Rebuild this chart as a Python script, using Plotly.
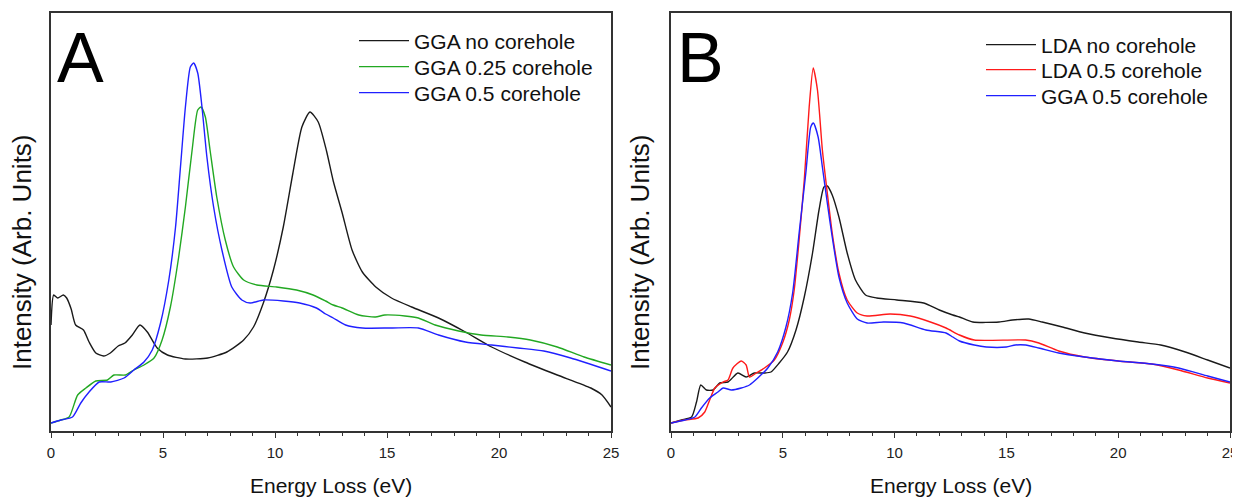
import plotly.graph_objects as go

# ---------------- Panel A data (Energy Loss in eV, intensity in arbitrary units) ----------------
a_gga_no_E = [0, 0.12, 0.3, 0.55, 0.7, 0.9, 1.1, 1.45, 1.7, 2.0, 2.35, 2.65, 3.0, 3.3, 3.63, 3.97, 4.3,
              4.74, 5.2, 6.0, 7.0, 7.85, 8.6, 9.04, 9.48, 9.93, 10.37, 10.8, 11.2, 11.56, 11.93, 12.3,
              12.6, 13.0, 13.44, 13.9, 14.5, 15.2, 16.1, 17.3, 18.5, 19.67, 21.15, 22.6, 24.1, 24.6, 25.0]
a_gga_no_I = [106, 136, 133, 136, 133, 122, 106, 101, 89, 78, 75, 78, 85, 88, 96, 106, 99,
              83, 76, 72, 73, 79, 91, 104, 128, 161, 204, 258, 304, 319, 309, 280,
              250, 218, 181, 159, 144, 133, 124, 113, 99, 84, 69, 56, 43, 36, 24]

a_gga_025_E = [0, 0.44, 0.81, 1.19, 1.56, 2.0, 2.52, 2.81, 3.33, 3.7, 4.15, 4.6, 4.96, 5.33, 5.7, 6.0,
               6.3, 6.55, 6.7, 6.89, 7.1, 7.4, 7.78, 8.15, 8.6, 9.19, 10.07, 10.96, 11.7, 12.26, 12.6,
               13.0, 13.74, 14.48, 14.9, 15.8, 16.4, 17.15, 18.2, 19.2, 20.4, 21.4, 22.6, 23.8, 25.0]
a_gga_025_I = [8, 11, 14, 36, 43, 50, 51, 56, 56, 61, 66, 73, 91, 124, 174, 224,
               281, 321, 324, 314, 281, 234, 191, 164, 151, 146, 144, 141, 136, 130, 126,
               123, 116, 114, 116, 115, 113, 106, 100, 96, 94, 91, 84, 74, 66]

a_gga_05_E = [0, 0.44, 0.96, 1.33, 1.7, 2.15, 2.67, 3.26, 3.7, 4.15, 4.52, 4.89, 5.26, 5.56, 5.78, 6.0,
              6.22, 6.37, 6.55, 6.74, 6.96, 7.26, 7.63, 8.07, 8.52, 8.89, 9.48, 10.37, 11.1, 11.85, 12.26,
              12.6, 13.15, 13.9, 15.2, 16.4, 17.3, 18.5, 19.67, 20.85, 22.0, 23.2, 25.0]
a_gga_05_I = [8, 11, 14, 28, 39, 49, 49, 53, 61, 69, 81, 108, 151, 204, 264, 324,
              364, 368, 358, 324, 274, 224, 181, 144, 131, 128, 131, 130, 128, 123, 117,
              113, 106, 103, 103, 103, 96, 89, 86, 83, 80, 73, 60]

# ---------------- Panel B data ----------------
b_lda_no_E = [0, 0.47, 0.92, 1.14, 1.33, 1.58, 1.88, 2.18, 2.55, 2.99, 3.36, 3.73, 4.18, 4.47, 4.84, 5.21,
              5.59, 5.96, 6.33, 6.62, 6.84, 6.99, 7.21, 7.51, 7.88, 8.25, 8.7, 9.2, 10.1, 11.3, 12.0,
              12.6, 12.9, 13.5, 14.67, 15.27, 16.0, 16.6, 17.5, 18.5, 19.7, 20.9, 21.9, 23.0, 24.0, 25.0]
b_lda_no_I = [8, 11, 14, 29, 46, 41, 41, 48, 49, 58, 54, 58, 58, 59, 68, 79,
              101, 134, 178, 221, 244, 245, 236, 214, 178, 151, 136, 133, 131, 128, 121,
              116, 114, 109, 109, 111, 112, 109, 104, 98, 93, 89, 86, 79, 71, 63]

b_lda_05_E = [0, 0.62, 1.21, 1.51, 1.73, 1.96, 2.33, 2.55, 2.77, 3.14, 3.36, 3.51, 3.81, 4.18, 4.62, 4.99,
              5.29, 5.51, 5.73, 5.96, 6.18, 6.36, 6.55, 6.77, 6.99, 7.21, 7.51, 7.88, 8.33, 8.77, 9.8,
              10.7, 11.6, 12.3, 12.9, 13.56, 15.86, 16.45, 17.34, 18.5, 20.0, 21.5, 22.7, 24.0, 25.0]
b_lda_05_I = [8, 11, 13, 19, 31, 43, 49, 51, 63, 70, 66, 54, 58, 63, 71, 88,
              111, 141, 191, 251, 324, 363, 341, 281, 238, 198, 158, 131, 118, 115, 117,
              115, 109, 103, 96, 91, 91, 88, 80, 74, 70, 67, 61, 53, 48]

b_gga_05_E = [0, 0.62, 1.07, 1.36, 1.73, 2.1, 2.33, 2.7, 3.14, 3.51, 3.88, 4.33, 4.77, 5.14, 5.44, 5.73,
              6.03, 6.25, 6.37, 6.58, 6.77, 6.99, 7.21, 7.51, 7.88, 8.33, 8.77, 9.5, 10.4, 11.4, 12.3,
              12.6, 12.9, 13.56, 14.1, 15.0, 15.4, 15.86, 16.45, 17.34, 18.5, 20.0, 21.5, 22.7, 24.0, 25.0]
b_gga_05_I = [8, 11, 14, 23, 33, 39, 43, 41, 43, 46, 53, 63, 79, 104, 138, 198,
              258, 304, 308, 294, 264, 228, 194, 154, 128, 112, 108, 109, 108, 101, 98,
              94, 90, 86, 84, 84, 86, 86, 83, 78, 74, 70, 67, 63, 55, 49]

x_tick_vals = [0, 5, 10, 15, 20, 25]
x_tick_text = ["0", "5", "10", "15", "20", "25"]

# The page body has an 8px margin, so the figure is drawn 8px in from the window corner.
OFF = 8
W, H = 1240 - OFF, 498 - OFF


def px(X):
    """window pixel x -> paper fraction"""
    return (X - OFF) / W


def py(Y):
    """window pixel y (from top) -> paper fraction"""
    return (H - (Y - OFF)) / H


FONT = "Liberation Sans, Arial, sans-serif"
BLACK = "#1a1a1a"
GREEN = "#22a822"
BLUE = "#2020ff"
RED = "#ff1a1a"
LW = 1.4

fig = go.Figure()


def add(xs, ys, name, color, xa, ya, legend):
    fig.add_trace(go.Scatter(x=xs, y=ys, mode="lines", name=name,
                             line=dict(color=color, width=LW, shape="spline", smoothing=0.6),
                             xaxis=xa, yaxis=ya, legend=legend))


add(a_gga_no_E, a_gga_no_I, "GGA no corehole", BLACK, "x", "y", "legend")
add(a_gga_025_E, a_gga_025_I, "GGA 0.25 corehole", GREEN, "x", "y", "legend2")
add(a_gga_05_E, a_gga_05_I, "GGA 0.5 corehole", BLUE, "x", "y", "legend3")

add(b_lda_no_E, b_lda_no_I, "LDA no corehole", BLACK, "x2", "y2", "legend4")
add(b_lda_05_E, b_lda_05_I, "LDA 0.5 corehole", RED, "x2", "y2", "legend5")
add(b_gga_05_E, b_gga_05_I, "GGA 0.5 corehole", BLUE, "x2", "y2", "legend6")

ydom = [py(431), py(13)]

xaxis_common = dict(range=[0, 25], tickvals=x_tick_vals, ticktext=x_tick_text,
                    ticks="outside", ticklen=5, tickwidth=1, tickcolor="#333",
                    minor=dict(ticks="outside", ticklen=3, dtick=1, tickcolor="#333", tickwidth=1),
                    showline=True, linecolor="#333", linewidth=1.5, mirror=True,
                    showgrid=False, zeroline=False, automargin=False,
                    tickfont=dict(family=FONT, size=15, color="#222"),
                    ticklabelstandoff=2, ticklabeloverflow="allow")
yaxis_common = dict(range=[0, 418], domain=ydom, showticklabels=False, ticks="",
                    showline=True, linecolor="#333", linewidth=1.5, mirror=True,
                    showgrid=False, zeroline=False, automargin=False)


def leg(X, Y):
    return dict(x=px(X), y=py(Y), xanchor="left", yanchor="middle",
                bgcolor="rgba(0,0,0,0)", font=dict(family=FONT, size=21, color="#111"),
                itemwidth=50, tracegroupgap=0)


fig.update_layout(
    width=W, height=H,
    margin=dict(l=0, r=0, t=0, b=0, autoexpand=False),
    paper_bgcolor="white", plot_bgcolor="white",
    xaxis=dict(domain=[px(51), px(611)], anchor="y", **xaxis_common),
    yaxis=dict(anchor="x", **yaxis_common),
    xaxis2=dict(domain=[px(671), px(1230)], anchor="y2", **xaxis_common),
    yaxis2=dict(anchor="x2", **yaxis_common),
    legend=leg(354, 41),
    legend2=leg(354, 67),
    legend3=leg(354, 93),
    legend4=leg(981, 45),
    legend5=leg(981, 70),
    legend6=leg(981, 96),
    showlegend=True,
)

annos = [
    dict(text="A", x=px(55), y=py(58), xanchor="left", yanchor="middle",
         font=dict(family=FONT, size=70, color="black")),
    dict(text="B", x=px(675), y=py(58), xanchor="left", yanchor="middle",
         font=dict(family=FONT, size=70, color="black")),
    dict(text="Energy Loss (eV)", x=px(331), y=py(485), xanchor="center", yanchor="middle",
         font=dict(family=FONT, size=21, color="#111")),
    dict(text="Energy Loss (eV)", x=px(950.5), y=py(485), xanchor="center", yanchor="middle",
         font=dict(family=FONT, size=21, color="#111")),
    dict(text="Intensity (Arb. Units)", x=px(22), y=py(252), xanchor="center", yanchor="middle",
         textangle=-90, font=dict(family=FONT, size=26, color="#111")),
    dict(text="Intensity (Arb. Units)", x=px(640), y=py(252), xanchor="center", yanchor="middle",
         textangle=-90, font=dict(family=FONT, size=26, color="#111")),
]
for a in annos:
    a.update(xref="paper", yref="paper", showarrow=False)
fig.update_layout(annotations=annos)

fig.write_html("out.html")
